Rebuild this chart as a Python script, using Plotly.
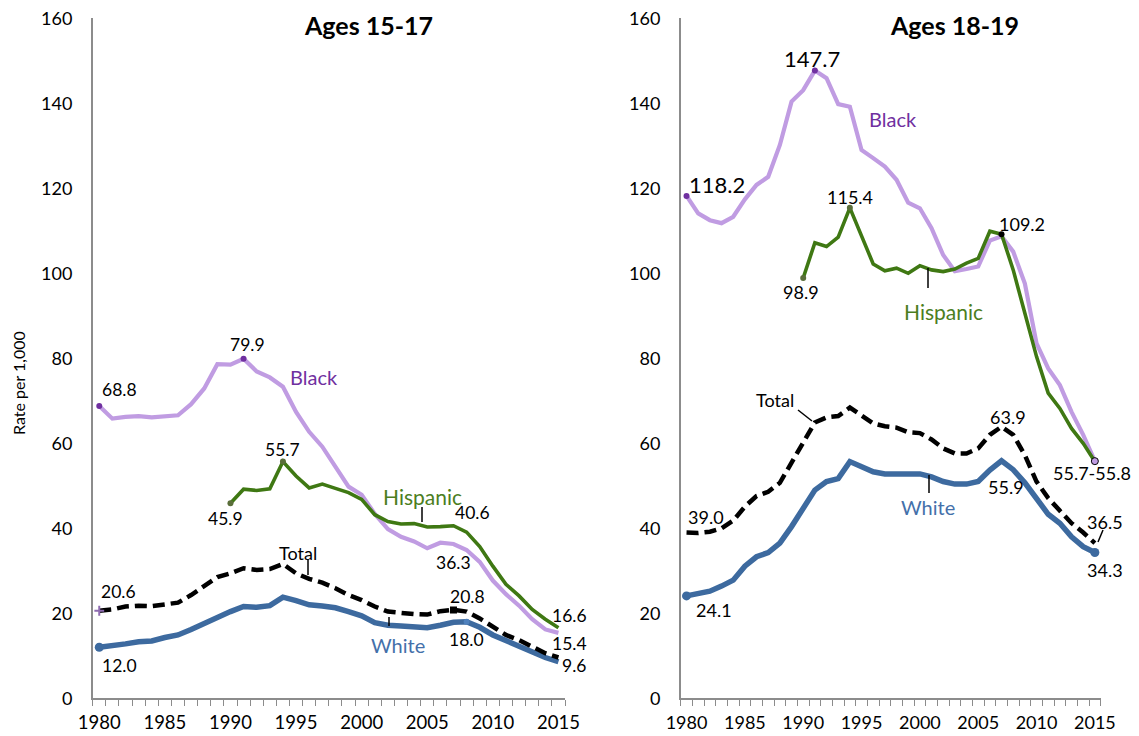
import plotly.graph_objects as go

years = list(range(1980, 2016))
hisp_years = list(range(1990, 2016))
tick_years = [1980, 1985, 1990, 1995, 2000, 2005, 2010, 2015]
y_ticks = [0, 20, 40, 60, 80, 100, 120, 140, 160]

# ---- Ages 15-17 ----
black_1517 = [68.8, 65.8, 66.2, 66.4, 66.1, 66.3, 66.6, 69.2, 72.9, 78.6,
              78.5, 79.9, 76.9, 75.5, 73.3, 67.4, 62.7, 59.2, 54.5, 49.8,
              47.9, 43.4, 39.8, 38.0, 36.9, 35.3, 36.6, 36.3, 34.9, 32.1,
              27.7, 24.5, 21.8, 18.6, 16.2, 15.4]
hisp_1517 = [45.9, 49.2, 48.9, 49.3, 55.7, 52.3, 49.5, 50.4, 49.4, 48.4,
             46.8, 43.2, 41.6, 41.0, 41.1, 40.3, 40.4, 40.6, 39.1, 35.7,
             31.1, 26.8, 24.1, 20.9, 18.6, 16.6]
total_1517 = [20.6, 20.9, 21.6, 21.8, 21.7, 22.0, 22.5, 24.3, 26.4, 28.5,
              29.4, 30.6, 30.2, 30.4, 31.6, 29.4, 28.1, 27.2, 25.9, 24.3,
              23.1, 21.6, 20.4, 20.0, 19.8, 19.7, 20.5, 20.8, 20.4, 18.8,
              16.9, 14.9, 13.7, 12.0, 10.6, 9.6]
white_1517 = [12.0, 12.3, 12.8, 13.3, 13.5, 14.3, 14.9, 16.2, 17.6, 19.2,
              20.4, 21.6, 21.4, 21.8, 23.8, 23.0, 22.0, 21.7, 21.3, 20.4,
              19.4, 17.8, 17.2, 17.0, 16.8, 16.6, 17.2, 17.9, 18.0, 16.7,
              14.9, 13.5, 12.3, 10.7, 9.6, 8.6]

# ---- Ages 18-19 ----
black_1819 = [118.2, 114.1, 112.5, 111.8, 113.3, 117.4, 120.8, 122.7, 130.2, 140.4,
              143.1, 147.7, 145.9, 139.8, 139.2, 129.0, 127.1, 125.1, 122.0, 116.6,
              115.3, 110.6, 104.3, 100.5, 101.0, 101.6, 107.7, 108.7, 105.1, 97.6,
              83.5, 77.6, 73.7, 67.4, 62.0, 55.8]
hisp_1819 = [98.9, 107.2, 106.3, 108.5, 115.4, 108.6, 102.2, 100.6, 101.2, 100.0,
             101.8, 100.8, 100.4, 101.0, 102.4, 103.5, 109.9, 109.2, 100.8, 90.6,
             80.4, 71.8, 68.2, 63.5, 60.0, 55.7]
total_1819 = [39.0, 38.9, 39.2, 40.0, 41.8, 45.1, 47.6, 48.6, 50.7, 55.3,
              60.4, 64.9, 66.1, 66.4, 68.4, 66.4, 64.7, 64.0, 63.7, 62.6,
              62.4, 60.9, 58.8, 57.6, 57.6, 58.8, 62.0, 63.9, 62.0, 57.2,
              51.0, 47.1, 44.3, 41.2, 39.0, 36.5]
white_1819 = [24.1, 24.5, 25.2, 26.4, 27.8, 31.1, 33.3, 34.3, 36.5, 40.4,
              44.7, 49.0, 51.0, 51.7, 55.7, 54.5, 53.3, 52.8, 52.7, 52.6,
              52.8, 52.1, 51.0, 50.4, 50.4, 51.0, 53.7, 55.9, 53.8, 50.7,
              46.8, 43.3, 41.2, 38.0, 35.7, 34.3]

# page geometry: the html body adds an 8px margin, so the figure is shrunk by it
SCR_W, SCR_H, OFF = 1139, 736, 8
W, H = SCR_W - OFF, SCR_H - OFF


def fx(px):
    return (px - OFF) / W


def fy(py):
    return 1 - (py - OFF) / H


FONT = "Lato, 'Open Sans', Arial, sans-serif"
LAV = "#C09CE2"
PURPLE = "#7030A0"
GREEN = "#3F7813"
GREEN_TXT = "#4C7E1E"
GREEN_DOT = "#5A6E3A"
BLUE = "#3D6A9F"
BLUE_TXT = "#4470AA"
AXIS = "#8C8C8C"

fig = go.Figure()


def val(series, xs, yr):
    return series[xs.index(yr)]


def panel(xa, ya, black, hisp, white, total):
    fig.add_trace(go.Scatter(x=years, y=black, xaxis=xa, yaxis=ya, mode="lines",
                             line=dict(color=LAV, width=4.2), hoverinfo="skip"))
    fig.add_trace(go.Scatter(x=hisp_years, y=hisp, xaxis=xa, yaxis=ya, mode="lines",
                             line=dict(color=GREEN, width=3.6), hoverinfo="skip"))
    fig.add_trace(go.Scatter(x=years, y=white, xaxis=xa, yaxis=ya, mode="lines",
                             line=dict(color=BLUE, width=5.5), hoverinfo="skip"))
    fig.add_trace(go.Scatter(x=years, y=total, xaxis=xa, yaxis=ya, mode="lines",
                             line=dict(color="black", width=4.5, dash="12px,6px"),
                             hoverinfo="skip"))


def mark(xa, ya, series, xs, yrs, color, size, symbol="circle", lc=None, lw=0):
    fig.add_trace(go.Scatter(x=yrs, y=[val(series, xs, y) for y in yrs], xaxis=xa, yaxis=ya,
                             mode="markers",
                             marker=dict(color=color, size=size, symbol=symbol,
                                         line=dict(color=lc or color, width=lw)),
                             hoverinfo="skip"))


panel("x", "y", black_1517, hisp_1517, white_1517, total_1517)
panel("x2", "y2", black_1819, hisp_1819, white_1819, total_1819)

# markers on labelled points
mark("x", "y", black_1517, years, [1980, 1991], PURPLE, 6)
mark("x", "y", hisp_1517, hisp_years, [1990, 1994], GREEN_DOT, 6)
mark("x", "y", total_1517, years, [1980], "#8E6BB0", 7, "cross-thin", "#8E6BB0", 2)
mark("x", "y", total_1517, years, [2007], "black", 7, "square")
mark("x", "y", white_1517, years, [1980], BLUE, 9)
mark("x", "y", white_1517, years, [2008], "#4F81BD", 6)

mark("x2", "y2", black_1819, years, [1980, 1991], PURPLE, 6)
mark("x2", "y2", hisp_1819, hisp_years, [1990, 1994], GREEN_DOT, 6)
mark("x2", "y2", hisp_1819, hisp_years, [2007], "black", 6)
mark("x2", "y2", black_1819, years, [2015], "#C09CE2", 7, "circle", "black", 1)
mark("x2", "y2", white_1819, years, [1980, 2015], BLUE, 9)

ann = []


def lab(xr, yr_ref, series, xs, yr, dx, dy, size=17.5, text=None):
    v = val(series, xs, yr)
    ann.append(dict(x=yr, y=v, xref=xr, yref=yr_ref, text=text or f"{v:.1f}",
                    showarrow=False, xshift=dx, yshift=dy,
                    font=dict(family=FONT, size=size, color="black")))


# Ages 15-17 value labels
lab("x", "y", black_1517, years, 1980, 20, 16)
lab("x", "y", black_1517, years, 1991, 4, 14)
lab("x", "y", hisp_1517, hisp_years, 1994, 0, 12)
lab("x", "y", hisp_1517, hisp_years, 1990, -5, -15)
lab("x", "y", total_1517, years, 1980, 19, 19)
lab("x", "y", white_1517, years, 1980, 20, -18)
lab("x", "y", hisp_1517, hisp_years, 2007, 19, 13)
lab("x", "y", black_1517, years, 2007, 0, -18)
lab("x", "y", total_1517, years, 2007, 14, 13)
lab("x", "y", white_1517, years, 2008, 0, -18)
lab("x", "y", hisp_1517, hisp_years, 2015, 11, 12)
lab("x", "y", black_1517, years, 2015, 11, -11)
lab("x", "y", total_1517, years, 2015, 16, -8)

# Ages 18-19 value labels
lab("x2", "y2", black_1819, years, 1980, 30, 11, 22)
lab("x2", "y2", black_1819, years, 1991, -3, 12, 22)
lab("x2", "y2", hisp_1819, hisp_years, 1994, 0, 11, 18)
lab("x2", "y2", hisp_1819, hisp_years, 1990, -2, -14, 18)
lab("x2", "y2", hisp_1819, hisp_years, 2007, 20, 10, 18)
lab("x2", "y2", total_1819, years, 2007, 6, 10, 18)
lab("x2", "y2", white_1819, years, 2007, 4, -26, 18)
lab("x2", "y2", hisp_1819, hisp_years, 2015, -3, -11, 18,
    text=f"{hisp_1819[-1]:.1f}-{black_1819[-1]:.1f}")
lab("x2", "y2", total_1819, years, 2015, 10, 21, 18)
lab("x2", "y2", white_1819, years, 2015, 10, -17, 18)
lab("x2", "y2", total_1819, years, 1980, 19, 16, 18)
lab("x2", "y2", white_1819, years, 1980, 27, -14, 18)


def ptxt(px, py, text, color, size=20, bold=False, angle=0):
    ann.append(dict(x=fx(px), y=fy(py), xref="paper", yref="paper", text=text,
                    showarrow=False, xanchor="center", yanchor="middle", textangle=angle,
                    font=dict(family=FONT, size=size, color=color,
                              weight="bold" if bold else "normal")))


# series names
ptxt(314, 377, "Black", PURPLE)
ptxt(422, 497, "Hispanic", GREEN_TXT, 21)
ptxt(298, 553, "Total", "black", 18)
ptxt(398, 645, "White", BLUE_TXT)
ptxt(893, 119, "Black", PURPLE)
ptxt(943, 311, "Hispanic", GREEN_TXT, 21)
ptxt(775, 400, "Total", "black", 18)
ptxt(928, 507, "White", BLUE_TXT)

# titles
ptxt(368, 25, "Ages 15-17", "black", 25, True)
ptxt(954, 25, "Ages 18-19", "black", 25, True)
ptxt(19, 383, "Rate per 1,000", "black", 16, angle=-90)

shapes = []


def seg(x0, y0, x1, y1):
    shapes.append(dict(type="line", xref="paper", yref="paper",
                       x0=fx(x0), y0=fy(y0), x1=fx(x1), y1=fy(y1),
                       line=dict(color="black", width=1.5)))


seg(308, 560, 308, 575)
seg(422, 507, 422, 522)
seg(389, 617, 389, 626)
seg(798, 410, 812, 421)
seg(928, 268, 928, 288)
seg(929, 475, 929, 493)
seg(1103, 530, 1098, 542)

xcommon = dict(range=[1979.5, 2015.5], tickvals=tick_years, ticks="", showgrid=False,
               zeroline=False, showline=True, linecolor=AXIS, linewidth=1.5,
               minor=dict(tick0=1979.5, dtick=1, ticks="outside", ticklen=6,
                          tickcolor=AXIS, tickwidth=1.3, showgrid=False),
               ticklabelstandoff=7, automargin=False, ticklabeloverflow="allow")
ycommon = dict(range=[0, 160], tickvals=y_ticks, ticks="", showgrid=False, zeroline=False,
               showline=True, linecolor=AXIS, linewidth=1.5, ticklabelstandoff=15,
               automargin=False, ticklabeloverflow="allow")

ydom = [fy(698.3), fy(18.3)]
fig.update_layout(
    width=W, height=H, margin=dict(l=0, r=0, t=0, b=0, autoexpand=False),
    paper_bgcolor="white", plot_bgcolor="white", showlegend=False,
    font=dict(family=FONT, color="black"),
    xaxis=dict(domain=[fx(92.7), fx(565)], anchor="y", tickfont=dict(size=18.5), **xcommon),
    yaxis=dict(domain=ydom, anchor="x", tickfont=dict(size=18), **ycommon),
    xaxis2=dict(domain=[fx(680.7), fx(1100.7)], anchor="y2", tickfont=dict(size=18), **xcommon),
    yaxis2=dict(domain=ydom, anchor="x2", tickfont=dict(size=18), **ycommon),
    annotations=ann, shapes=shapes,
)

fig.write_html("out.html")
